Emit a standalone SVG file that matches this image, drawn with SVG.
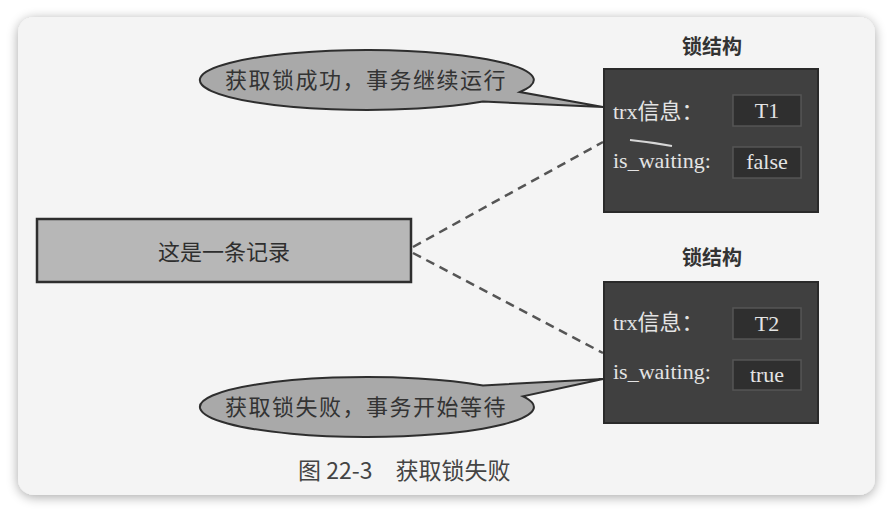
<svg xmlns="http://www.w3.org/2000/svg" width="893" height="513" viewBox="0 0 893 513">
  <defs>
    <filter id="shadow" x="-5%" y="-5%" width="110%" height="110%">
      <feGaussianBlur in="SourceAlpha" stdDeviation="6"/>
      <feOffset dx="0" dy="2"/>
      <feComponentTransfer><feFuncA type="linear" slope="0.35"/></feComponentTransfer>
      <feMerge><feMergeNode/><feMergeNode in="SourceGraphic"/></feMerge>
    </filter>
  </defs>
  <style>
    .cjk { font-family: "Noto Sans CJK SC", "Liberation Serif", serif; }
    .ser { font-family: "Liberation Serif", "Noto Sans CJK SC", serif; }
    .lock { fill: #404040; stroke: #2a2a2a; stroke-width: 2; }
    .val { fill: #2f2f2f; stroke: #555; stroke-width: 1.5; }
    .lt { fill: #e4e4e4; font-size: 22px; }
    .vt { fill: #e4e4e4; font-size: 22px; text-anchor: middle; }
    .title { fill: #333; font-size: 20px; font-weight: bold; text-anchor: middle; }
    .bubble { fill: #a9a9a9; stroke: #2e2e2e; stroke-width: 2; }
    .bt { fill: #333; font-size: 22px; text-anchor: middle; letter-spacing: 1.5px; }
    .dash { fill: none; stroke: #555; stroke-width: 2.5; stroke-dasharray: 9 6; }
  </style>
  <rect width="893" height="513" fill="#ffffff"/>
  <rect x="18" y="17" width="857" height="478" rx="16" fill="#f4f4f4" filter="url(#shadow)"/>

  <g id="connectors">
    <path class="dash" d="M413,247 L603,142"/>
    <path class="dash" d="M413,253 L603,353"/>
  </g>

  <g id="record">
    <rect x="37" y="219" width="374" height="63" fill="#b7b7b7" stroke="#2e2e2e" stroke-width="2.5"/>
    <text class="cjk" x="224" y="260" font-size="22" fill="#2e2e2e" text-anchor="middle">这是一条记录</text>
  </g>

  <g id="lock1">
    <text class="cjk title" x="712" y="54">锁结构</text>
    <rect class="lock" x="604" y="69" width="214" height="143"/>
    <text class="cjk lt" x="613" y="119"><tspan class="ser">trx</tspan>信息：</text>
    <rect class="val" x="733" y="95" width="68" height="31"/>
    <text class="ser vt" x="767" y="118">T1</text>
    <text class="ser lt" x="613" y="168" font-size="23">is_waiting:</text>
    <rect class="val" x="733" y="147" width="68" height="31"/>
    <text class="ser vt" x="767" y="169">false</text>
    <path d="M630,140 Q650,142 672,146" fill="none" stroke="#d8d8d8" stroke-width="2"/>
  </g>

  <g id="lock2">
    <text class="cjk title" x="712" y="265">锁结构</text>
    <rect class="lock" x="604" y="282" width="214" height="141"/>
    <text class="cjk lt" x="613" y="330"><tspan class="ser">trx</tspan>信息：</text>
    <rect class="val" x="733" y="308" width="68" height="31"/>
    <text class="ser vt" x="767" y="331">T2</text>
    <text class="ser lt" x="613" y="379" font-size="23">is_waiting:</text>
    <rect class="val" x="733" y="360" width="68" height="30"/>
    <text class="ser vt" x="767" y="382">true</text>
  </g>

  <g id="callout1">
    <path class="bubble" d="M483,101.6 A167,30 0 1 1 520,92 L603,107 Z"/>
    <text class="cjk bt" x="366" y="88">获取锁成功，事务继续运行</text>
  </g>

  <g id="callout2">
    <path class="bubble" d="M523,396.3 A167,30 0 1 1 483,385.4 L603,379 Z"/>
    <text class="cjk bt" x="366" y="415">获取锁失败，事务开始等待</text>
  </g>

  <g id="caption">
    <text class="cjk" x="298" y="479" font-size="23" fill="#444">图 22-3　获取锁失败</text>
  </g>
</svg>
